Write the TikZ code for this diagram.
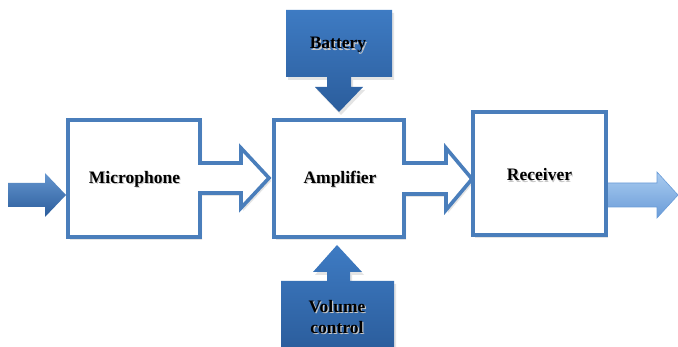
\documentclass[tikz,border=0pt]{standalone}
\usepackage{fontspec}
\setmainfont{Liberation Serif}
\begin{document}
\begin{tikzpicture}[x=1pt,y=-1pt,
  outl/.style={draw=outblue,line width=3.6pt,line join=miter,fill=white},
  shad/.style={fill=black!30,opacity=0.35},
  lbl/.style={font=\bfseries\fontsize{17.5}{19}\selectfont,text=black,align=center,inner sep=0pt},
  lblsh/.style={font=\bfseries\fontsize{17.5}{19}\selectfont,text=black!22,align=center,inner sep=0pt}]
\definecolor{outblue}{HTML}{4A7EBB}
\definecolor{darktop}{HTML}{3E7BC3}
\definecolor{darkbot}{HTML}{2B5D9C}
\definecolor{lighttop}{HTML}{A9CBF0}
\definecolor{lightbot}{HTML}{6A9CD8}
\useasboundingbox (0,0) rectangle (678,347);
\fill[white] (0,0) rectangle (678,347);
% shadows
\begin{scope}[shift={(2,3)}]
\fill[shad] (68,120) -- (200,120) -- (200,163) -- (241,163) -- (241,148) -- (269,178) -- (241,208) -- (241,193) -- (200,193) -- (200,237) -- (68,237) -- cycle;
\fill[shad] (274,120) -- (404,120) -- (404,163) -- (446,163) -- (446,148) -- (472,179) -- (446,210) -- (446,194) -- (404,194) -- (404,237) -- (274,237) -- cycle;
\fill[shad] (473,112) rectangle (606,235);
\fill[shad] (286,10) -- (392,10) -- (392,77) -- (351,77) -- (351,87) -- (363,87) -- (339,112) -- (315,87) -- (327,87) -- (327,77) -- (286,77) -- cycle;
\fill[shad] (337,245) -- (362,272) -- (350,272) -- (350,281) -- (394,281) -- (394,350) -- (281,350) -- (281,281) -- (327,281) -- (327,272) -- (313,272) -- cycle;
\end{scope}
% input arrow
\path[top color=darktop!80!white,bottom color=darkbot] (8,183) -- (45,183) -- (45,173) -- (66,195) -- (45,217) -- (45,207) -- (8,207) -- cycle;
% output arrow
\path[top color=lighttop,bottom color=lightbot,draw=lightbot,line width=0.6pt] (606,183) -- (657,183) -- (657,172) -- (678,195) -- (657,218) -- (657,207) -- (606,207) -- cycle;
% microphone
\path[outl] (68,120) -- (200,120) -- (200,163) -- (241,163) -- (241,148) -- (269,178) -- (241,208) -- (241,193) -- (200,193) -- (200,237) -- (68,237) -- cycle;
% amplifier
\path[outl] (274,120) -- (404,120) -- (404,163) -- (446,163) -- (446,148) -- (472,179) -- (446,210) -- (446,194) -- (404,194) -- (404,237) -- (274,237) -- cycle;
% receiver
\path[outl] (473,112) rectangle (606,235);
% battery
\path[top color=darktop,bottom color=darkbot] (286,10) -- (392,10) -- (392,77) -- (351,77) -- (351,87) -- (363,87) -- (339,112) -- (315,87) -- (327,87) -- (327,77) -- (286,77) -- cycle;
% volume control
\path[top color=darktop,bottom color=darkbot] (337,245) -- (362,272) -- (350,272) -- (350,281) -- (394,281) -- (394,350) -- (281,350) -- (281,281) -- (327,281) -- (327,272) -- (313,272) -- cycle;
% label shadows
\node[lblsh] (micsh) at (135.7,180.5) {Microphone};
\node[lblsh] (ampsh) at (341.2,180.5) {Amplifier};
\node[lblsh] (recsh) at (540.7,176.5) {Receiver};
\node[lblsh] (batsh) at (339.2,46.5) {Battery};
\node[lblsh] (volsh) at (338.2,318.5) {Volume\\[2pt]control};
% labels
\node[lbl] (mic) at (134.5,179) {Microphone};
\node[lbl] (amp) at (340,179) {Amplifier};
\node[lbl] (rec) at (539.5,175) {Receiver};
\node[lbl] (bat) at (338,45) {Battery};
\node[lbl] (vol) at (337,317) {Volume\\[2pt]control};
\end{tikzpicture}
\end{document}
